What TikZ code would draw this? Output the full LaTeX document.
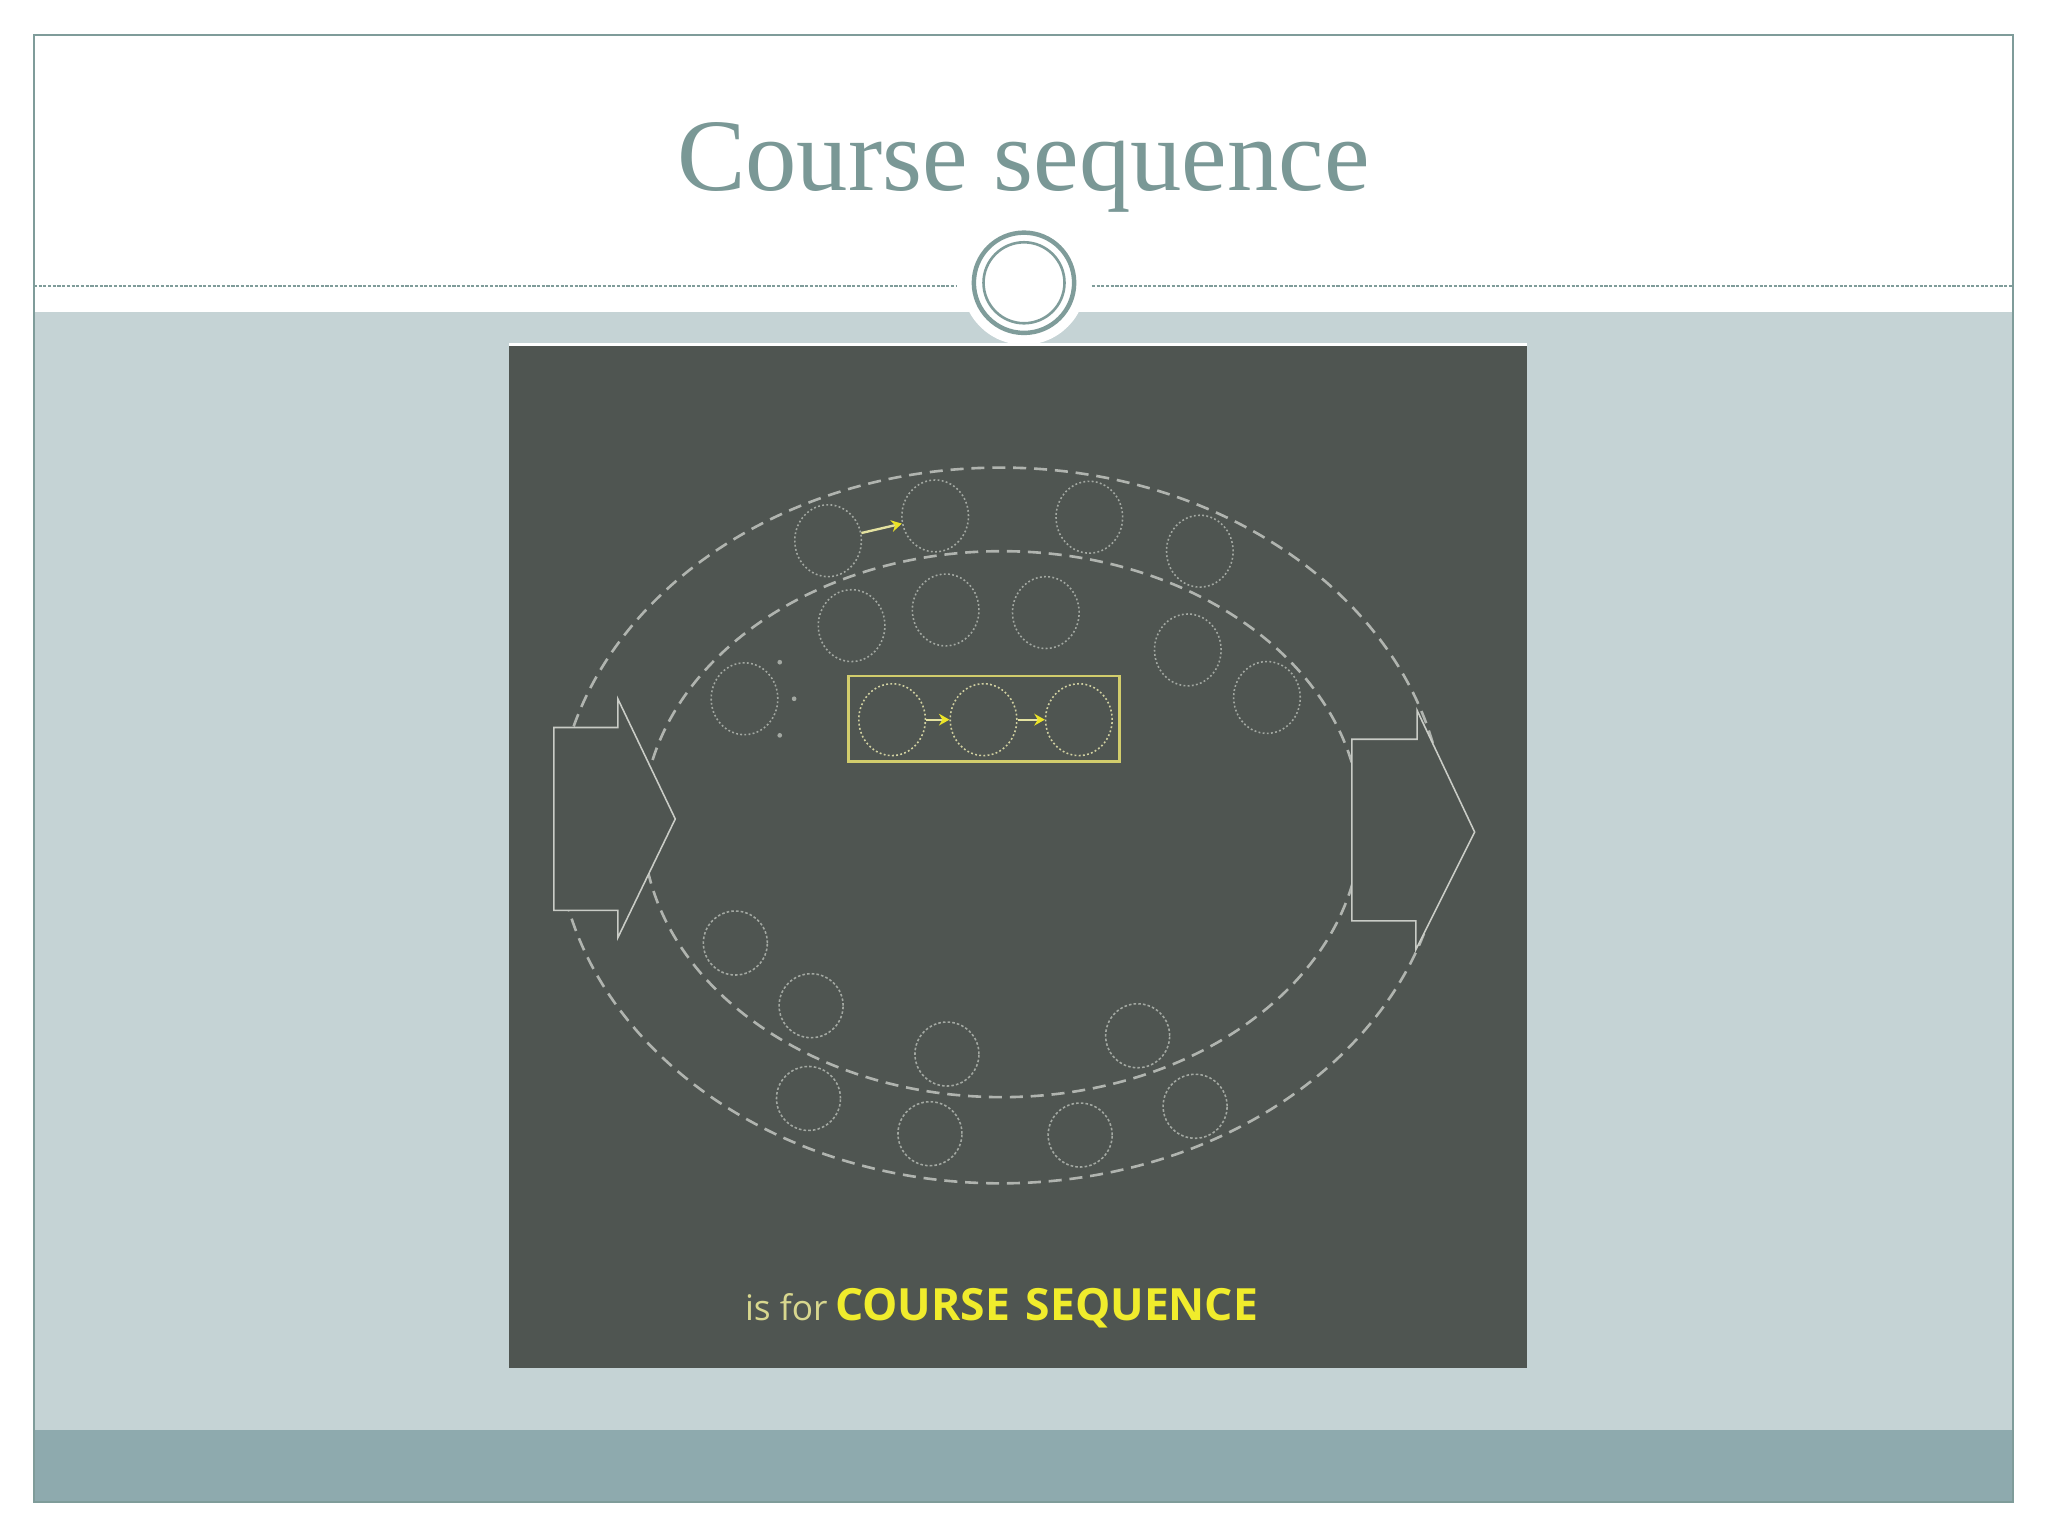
\documentclass[tikz,border=0pt]{standalone}
\usepackage{fontspec}
\setmainfont{Liberation Serif}
\newfontfamily\capfont{Open Sans}
\usetikzlibrary{shapes.geometric,arrows.meta}
\definecolor{framec}{HTML}{7F9C9A}
\definecolor{bandlight}{HTML}{C5D3D5}
\definecolor{banddark}{HTML}{8EAAAE}
\definecolor{titlec}{HTML}{7A9896}
\definecolor{board}{HTML}{4F5551}
\definecolor{chalk}{HTML}{B0B4AF}
\definecolor{chalkdot}{HTML}{A3A8A2}
\definecolor{chalkarrow}{HTML}{C9CCC6}
\definecolor{yelbox}{HTML}{D2CD6C}
\definecolor{yelarrow}{HTML}{ECE427}
\definecolor{yelshaft}{HTML}{E4E2A0}
\definecolor{yeltext}{HTML}{F0EC2C}
\definecolor{paleyel}{HTML}{D8D78E}
\begin{document}
\begin{tikzpicture}[x=0.5pt,y=-0.5pt,
  upc/.style={ellipse, draw=chalkdot, line width=0.6pt, dash pattern=on 0.7pt off 0.9pt,
    minimum width=25.5pt, minimum height=27.5pt, inner sep=0pt},
  lowc/.style={circle, draw=chalkdot, line width=0.6pt, dash pattern=on 1pt off 0.8pt,
    minimum size=24.5pt, inner sep=0pt},
  boxc/.style={upc, draw=yelshaft!70!chalkdot},
  ringline/.style={draw=chalk, line width=1pt, dash pattern=on 5pt off 3pt},
  blockarrow/.style={draw=chalkarrow, line width=0.6pt, fill=board, line join=miter},
  yarrow/.style={draw=yelshaft, line width=0.9pt,
    -{Stealth[length=4pt,width=4.5pt,color=yelarrow,fill=yelarrow]}},
]
% page and slide
\useasboundingbox (0,0) rectangle (1568,1176);
\fill[white] (0,0) rectangle (1568,1176);
\fill[bandlight] (26,239) rectangle (1541,1095);
\fill[banddark] (26,1095) rectangle (1541,1150);
\draw[framec, line width=0.6pt] (26,27) rectangle (1541,1150);
\coordinate (dl1) at (26,218.7);
\coordinate (dl2) at (732,218.7);
\coordinate (dl3) at (836,218.7);
\coordinate (dl4) at (1541,218.7);
\draw[framec, line width=0.7pt, dash pattern=on 1.2pt off 0.6pt] (dl1) -- (dl2);
\draw[framec, line width=0.7pt, dash pattern=on 1.2pt off 0.6pt] (dl3) -- (dl4);
% emblem
\fill[white] (784,216.5) circle[radius=23.75pt];
\draw[framec, line width=1.7pt] (784,216.5) circle[radius=19.2pt];
\draw[framec, line width=1pt] (784,216.5) circle[radius=15.5pt];
% title
\node (title) [anchor=base, inner sep=0pt, text=titlec,
  font=\fontsize{39.3}{42}\selectfont] at (783.5,145.5) {Course sequence};
% board
\fill[board] (390,263) rectangle (1169,1047);
\draw[white, line width=1.2pt] (390,263.6) -- (1169,263.6);
% rings
\draw[ringline] (766,632) ellipse [x radius=170pt, y radius=137pt];
\draw[ringline] (767,631) ellipse [x radius=137.5pt, y radius=104.5pt];
% block arrows
\draw[blockarrow] (424,557) -- (473,557) -- (473,535) -- (517,627) -- (473,718)
  -- (473,697) -- (424,697) -- cycle;
\draw[blockarrow] (1035,566) -- (1085,566) -- (1085,544) -- (1129,637) -- (1084,727)
  -- (1084,705) -- (1035,705) -- cycle;
% upper circles
\node[upc] (u1) at (634,414) {};
\node[upc] (u2) at (716,395) {};
\node[upc] (u3) at (834,396) {};
\node[upc] (u4) at (918.6,422) {};
\node[upc] (u5) at (652,479) {};
\node[upc] (u6) at (724,467) {};
\node[upc] (u7) at (800.7,469) {};
\node[upc] (u8) at (909.4,497.6) {};
\node[upc] (u9) at (570,535) {};
\node[upc] (u10) at (970,534) {};
% specks
\fill[chalkdot] (597,507) circle[radius=0.9pt];
\fill[chalkdot] (608,535) circle[radius=0.9pt];
\fill[chalkdot] (597,563) circle[radius=0.9pt];
% box
\node[draw=yelbox, line width=1.1pt, minimum width=103.75pt, minimum height=32.7pt,
  inner sep=0pt] (box) at (753.25,550.3) {};
\node[boxc] (b1) at (683,551) {};
\node[boxc] (b2) at (753,551) {};
\node[boxc] (b3) at (826,551) {};
\draw[yarrow] (b1) -- (b2);
\draw[yarrow] (b2) -- (b3);
\draw[yarrow] (u1) -- (u2);
% lower circles
\node[lowc] (l1) at (563,722) {};
\node[lowc] (l2) at (621,770) {};
\node[lowc] (l3) at (725,807) {};
\node[lowc] (l4) at (871,793) {};
\node[lowc] (l5) at (619,841) {};
\node[lowc] (l6) at (712,868) {};
\node[lowc] (l7) at (827,869) {};
\node[lowc] (l8) at (915,847) {};
% caption
\node (isfor) [anchor=base east, inner sep=0pt, text=paleyel,
  font=\capfont\fontsize{13.5}{15}\selectfont] at (634,1011) {is for};
\node (cseq) [anchor=base west, inner sep=0pt, text=yeltext,
  font=\capfont\bfseries\fontsize{17}{20}\selectfont] at (639,1011) {COURSE\hspace{6pt}SEQUENCE};
\end{tikzpicture}
\end{document}
